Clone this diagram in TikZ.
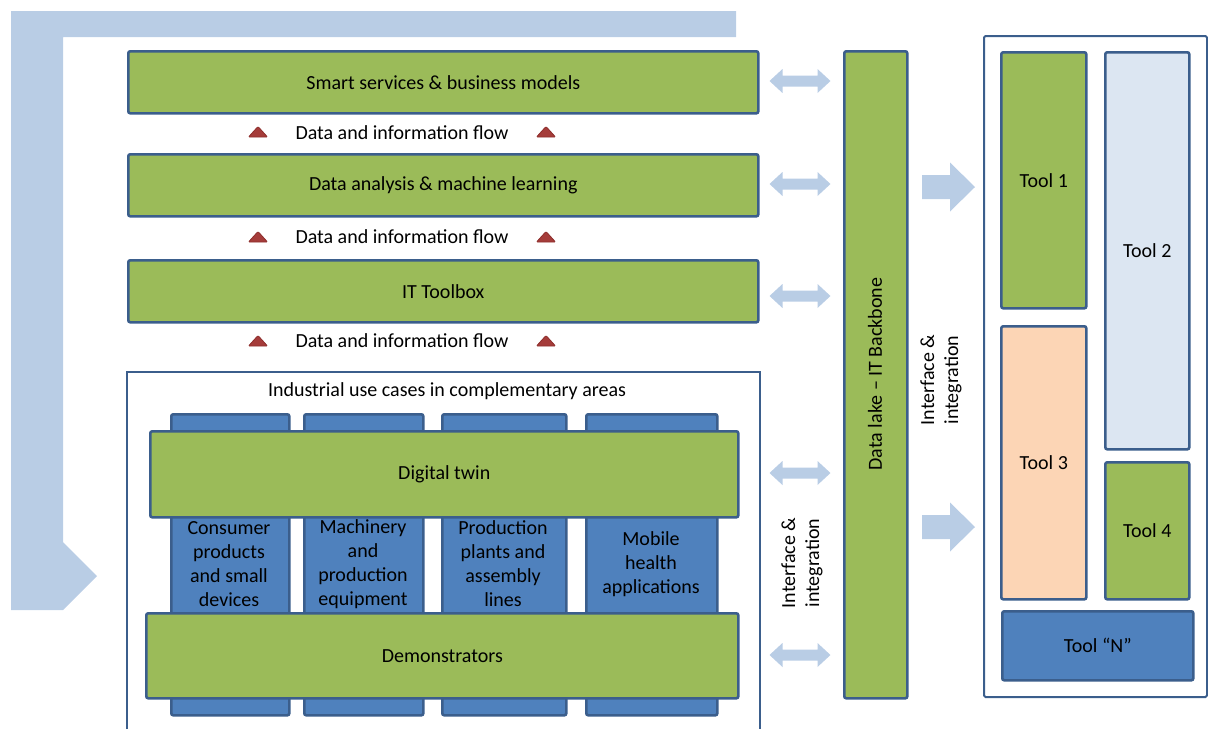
\documentclass[tikz,border=0pt]{standalone}
\usepackage{fontspec}
\setmainfont{Carlito}
\definecolor{gbar}{HTML}{9BBB59}
\definecolor{bord}{HTML}{3B5E8C}
\definecolor{bcol}{HTML}{4F81BD}
\definecolor{larr}{HTML}{B9CDE5}
\definecolor{tlb}{HTML}{DCE6F2}
\definecolor{peach}{HTML}{FCD5B5}
\definecolor{tri}{HTML}{A53C3A}
\definecolor{trid}{HTML}{8E2F2D}
\begin{document}
\begin{tikzpicture}[x=1pt,y=-1pt,
  txt/.style={font=\fontsize{20}{24}\selectfont, text=black, align=center, inner sep=0pt},
  boxbase/.style={draw=bord, line width=2.6pt, rounded corners=2pt, inner sep=0pt, anchor=north west, txt},
  gbox/.style={boxbase, fill=gbar},
  bbox/.style={boxbase, fill=bcol},
  dbl/.pic={\fill[larr] (-30.5,0) -- (-17.5,-12) -- (-17.5,-5.5) -- (17.5,-5.5) -- (17.5,-12) -- (30.5,0) -- (17.5,12) -- (17.5,5.5) -- (-17.5,5.5) -- (-17.5,12) -- cycle;},
  rarr/.pic={\fill[larr] (0,-12) -- (28,-12) -- (28,-24.5) -- (53,0) -- (28,24.5) -- (28,12) -- (0,12) -- cycle;},
  trimark/.pic={\fill[tri, draw=trid, line width=0.8pt, rounded corners=1pt] (-9.5,5) -- (9.5,5) -- (0,-5.5) -- cycle;},
]
\useasboundingbox (0,0) rectangle (1208,729);
% big L arrow
\fill[larr] (11,11) -- (736,11) -- (736,37) -- (63,37) -- (63,542) -- (97,576) -- (63,610) -- (11,610) -- cycle;

% top bars
\node[gbox, minimum width=630pt, minimum height=62pt] (smart) at (127,50) {};
\node[txt] at (smart.center) {Smart services \& business models};
\node[gbox, minimum width=630pt, minimum height=62pt] (dana) at (127,153) {};
\node[txt] at (dana.center) {Data analysis \& machine learning};
\node[gbox, minimum width=630pt, minimum height=62pt] (itb) at (127,259) {};
\node[txt] at (itb.center) {IT Toolbox};

% flows
\node[txt] (f1) at (402,133) {Data and information flow};
\node[txt] (f2) at (402,237) {Data and information flow};
\node[txt] (f3) at (402,341) {Data and information flow};
\foreach \yy in {132,237,341} {
  \pic at (258,\yy) {trimark};
  \pic at (546,\yy) {trimark};
}

% industrial box
\draw[bord, line width=2pt] (127,729) -- (127,372) -- (760,372) -- (760,729);
\node[txt] (ind) at (447,391) {Industrial use cases in complementary areas};

% columns
\node[bbox, minimum width=118pt, minimum height=301pt] (c1) at (170,413) {};
\node[bbox, minimum width=119pt, minimum height=301pt] (c2) at (303,413) {};
\node[bbox, minimum width=124pt, minimum height=301pt] (c3) at (441,413) {};
\node[bbox, minimum width=131pt, minimum height=301pt] (c4) at (585,413) {};
\node[txt] (t1) at (229,564) {Consumer\\products\\and small\\devices};
\node[txt] (t2) at (363,564) {Machinery\\and\\production\\equipment};
\node[txt] (t3) at (503,564) {Production\\plants and\\assembly\\lines};
\node[txt] (t4) at (651,564) {Mobile\\health\\applications};

\node[gbox, minimum width=588pt, minimum height=86pt] (dt) at (149,430) {};
\node[txt] at (dt.center) {Digital twin};
\node[gbox, minimum width=592pt, minimum height=85pt] (demo) at (145,612) {};
\node[txt] at (demo.center) {Demonstrators};

% double arrows
\foreach \yy in {81,184,296,473,655} { \pic at (800,\yy) {dbl}; }

% data lake
\node[gbox, minimum width=63pt, minimum height=647pt] (lake) at (843,50) {};
\node[txt, rotate=90] at (875,374) {Data lake -- IT Backbone};

\node[txt, rotate=90] (if1) at (802,563) {Interface \&\\integration};
\node[txt, rotate=90] (if2) at (941,380) {Interface \&\\integration};

\pic at (922,187) {rarr};
\pic at (922,527) {rarr};

% tool panel
\draw[bord, line width=2pt, rounded corners=1.5pt] (984,36) rectangle (1207,697);
\node[boxbase, fill=gbar, minimum width=85pt, minimum height=256pt] (tool1) at (1000,51) {};
\node[txt] at (tool1.center) {Tool 1};
\node[boxbase, fill=tlb, minimum width=84pt, minimum height=397pt] (tool2) at (1104,51) {};
\node[txt] at (tool2.center) {Tool 2};
\node[boxbase, fill=peach, minimum width=85pt, minimum height=273pt] (tool3) at (1000,325) {};
\node[txt] at (tool3.center) {Tool 3};
\node[boxbase, fill=gbar, minimum width=84pt, minimum height=137pt] (tool4) at (1104,461) {};
\node[txt] at (tool4.center) {Tool 4};
\node[boxbase, fill=bcol, minimum width=191pt, minimum height=69pt] (tooln) at (1001,610) {};
\node[txt] at (tooln.center) {Tool “N”};
\end{tikzpicture}
\end{document}
